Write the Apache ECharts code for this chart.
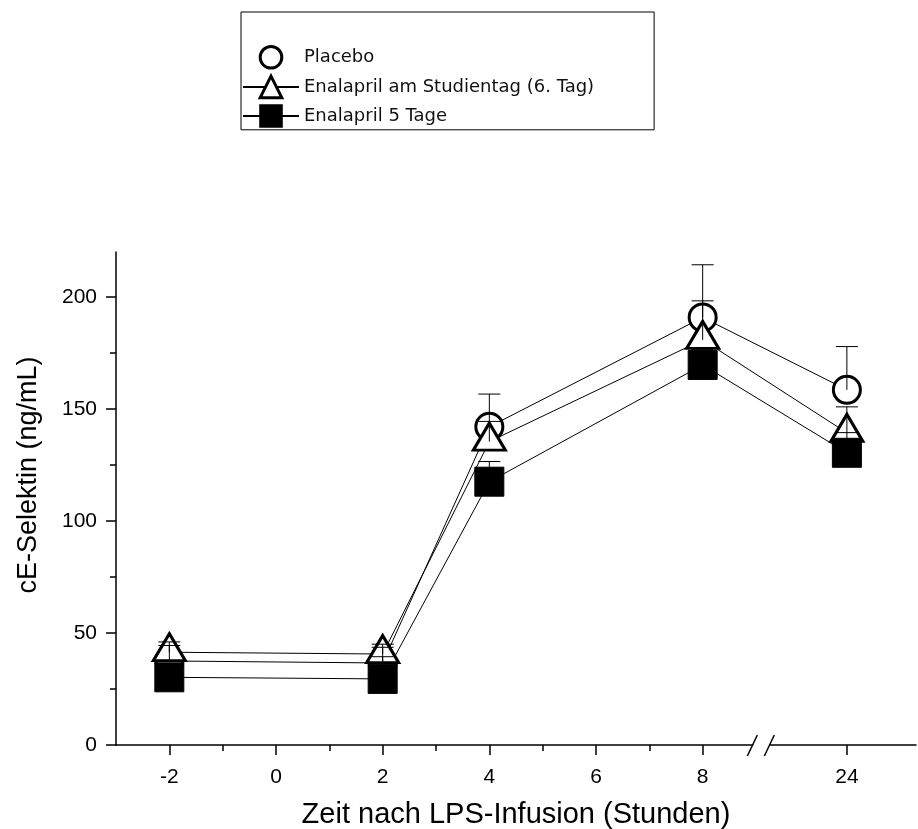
<!DOCTYPE html>
<html>
<head>
<meta charset="utf-8">
<script src="https://cdn.jsdelivr.net/npm/echarts@6/dist/echarts.min.js"></script>
<style>
  html, body { margin: 0; padding: 0; background: #fff; }
  #chart { width: 918px; height: 829px; }
</style>
</head>
<body>
<div id="chart"></div>
<script>
// Zeitpunkte (Stunden nach LPS-Infusion)
const hours = [-2, 2, 4, 8, 24]
const seriesNames = ['Placebo', 'Enalapril am Studientag (6. Tag)', 'Enalapril 5 Tage']
// Mittelwerte cE-Selektin (ng/mL)
const placebo = [37.5, 36.6, 142.0, 190.8, 158.5]
const enalaprilDay6 = [41.4, 40.6, 135.4, 180.8, 139.3]
const enalapril5 = [30.2, 29.5, 117.5, 169.6, 130.4]
// obere Fehlerbalken (SD)
const placeboSd = [8.5, 8.4, 14.6, 23.5, 19.3]
const enalaprilDay6Sd = [3, 3, 9, 17.4, 11.6]
const enalapril5Sd = [6, 9.9, 9, 7, 9]
// Achsenbeschriftung
const xTickHours = [-2, 0, 2, 4, 6, 8, 24]
const xTickLabels = ['-2', '0', '2', '4', '6', '8', '24']
const xMinorHours = [-1, 1, 3, 5, 7]
const yTicks = [0, 50, 100, 150, 200]
const yMinorTicks = [25, 75, 125, 175]

// gebrochene Achse: nach 8 h wird gestaucht
const BREAK_FROM = 8
const BREAK_SCALE = 0.169
const BREAK_POS = 9.1
function xPos (h) {
  return h <= BREAK_FROM ? h : BREAK_FROM + (h - BREAK_FROM) * BREAK_SCALE
}

const FONT = 'Liberation Sans'
const tickPositions = xTickHours.map(xPos)

function pairs (values) {
  return hours.map((h, i) => [xPos(h), values[i]])
}
function errData (values, sd) {
  return hours.map((h, i) => [xPos(h), values[i], values[i] + sd[i]])
}
function renderErr (params, api) {
  const base = api.coord([api.value(0), api.value(1)])
  const top = api.coord([api.value(0), api.value(2)])
  const st = { stroke: '#000', lineWidth: 1 }
  return {
    type: 'group',
    children: [
      { type: 'line', shape: { x1: base[0], y1: base[1], x2: top[0], y2: top[1] }, style: st },
      { type: 'line', shape: { x1: top[0] - 11, y1: top[1], x2: top[0] + 11, y2: top[1] }, style: st }
    ]
  }
}

const chart = echarts.init(document.getElementById('chart'))
chart.setOption({
  animation: false,
  backgroundColor: '#fff',
  legend: {
    orient: 'vertical',
    left: 241,
    top: 12,
    padding: [33, 60, 2, 1],
    itemGap: 5,
    itemWidth: 56,
    itemHeight: 27,
    borderColor: '#000',
    borderWidth: 1,
    selectedMode: false,
    textStyle: { fontFamily: 'DejaVu Sans', fontSize: 18, color: '#111' },
    data: [
      { name: seriesNames[0], lineStyle: { opacity: 0 }, itemStyle: { borderWidth: 3 } },
      { name: seriesNames[1], itemStyle: { borderWidth: 3 } },
      { name: seriesNames[2] }
    ]
  },
  grid: { left: 116, right: 2, top: 252, bottom: 84, outerBoundsMode: 'none' },
  xAxis: [
    {
      type: 'value',
      min: -3,
      max: 12,
      name: 'Zeit nach LPS-Infusion (Stunden)',
      nameLocation: 'middle',
      nameGap: 55,
      nameTextStyle: { fontFamily: FONT, fontSize: 29, color: '#000' },
      axisLine: { show: true, onZero: false, lineStyle: { color: '#000', width: 1.5 } },
      axisTick: { show: true, length: 10, customValues: tickPositions, lineStyle: { color: '#000', width: 1.5 } },
      axisLabel: {
        customValues: tickPositions,
        margin: 22,
        fontFamily: FONT,
        fontSize: 21,
        color: '#000',
        formatter: function (v) {
          const i = tickPositions.findIndex(p => Math.abs(p - v) < 1e-6)
          return i >= 0 ? xTickLabels[i] : ''
        }
      },
      splitLine: { show: false }
    },
    {
      type: 'value',
      min: -3,
      max: 12,
      position: 'bottom',
      axisLine: { show: false, onZero: false },
      axisTick: { show: true, length: 6, customValues: xMinorHours, lineStyle: { color: '#000', width: 1.5 } },
      axisLabel: { show: false },
      splitLine: { show: false }
    }
  ],
  yAxis: [
    {
      type: 'value',
      min: 0,
      max: 220,
      name: 'cE-Selektin (ng/mL)',
      nameLocation: 'middle',
      nameGap: 74,
      nameTextStyle: { fontFamily: FONT, fontSize: 27, color: '#000', padding: [0, 0, 0, 47] },
      axisLine: { show: true, onZero: false, lineStyle: { color: '#000', width: 1.5 } },
      axisTick: { show: true, length: 10, customValues: yTicks, lineStyle: { color: '#000', width: 1.5 } },
      axisLabel: { customValues: yTicks, margin: 19, fontFamily: FONT, fontSize: 21, color: '#000' },
      splitLine: { show: false }
    },
    {
      type: 'value',
      min: 0,
      max: 220,
      position: 'left',
      axisLine: { show: false, onZero: false },
      axisTick: { show: true, length: 6, customValues: yMinorTicks, lineStyle: { color: '#000', width: 1.5 } },
      axisLabel: { show: false },
      splitLine: { show: false }
    }
  ],
  series: [
    {
      name: seriesNames[0],
      type: 'line',
      data: pairs(placebo),
      symbol: 'circle',
      symbolSize: 27,
      itemStyle: { color: '#fff', borderColor: '#000', borderWidth: 3 },
      lineStyle: { color: '#000', width: 1 },
      emphasis: { disabled: true }
    },
    {
      name: seriesNames[1],
      type: 'line',
      data: pairs(enalaprilDay6),
      symbol: 'triangle',
      symbolSize: [32, 27],
      symbolOffset: [0, -5],
      itemStyle: { color: '#fff', borderColor: '#000', borderWidth: 3 },
      lineStyle: { color: '#000', width: 1 },
      emphasis: { disabled: true }
    },
    {
      name: seriesNames[2],
      type: 'line',
      data: pairs(enalapril5),
      symbol: 'rect',
      symbolSize: 29,
      itemStyle: { color: '#000', borderColor: '#000', borderWidth: 1 },
      lineStyle: { color: '#000', width: 1 },
      emphasis: { disabled: true }
    },
    { type: 'custom', z: 5, data: errData(placebo, placeboSd), renderItem: renderErr, silent: true },
    { type: 'custom', z: 5, data: errData(enalaprilDay6, enalaprilDay6Sd), renderItem: renderErr, silent: true },
    { type: 'custom', z: 5, data: errData(enalapril5, enalapril5Sd), renderItem: renderErr, silent: true }
  ]
})

// Achsenbruch-Zeichen "//"
const bx = chart.convertToPixel({ xAxisIndex: 0 }, BREAK_POS)
const by = chart.convertToPixel({ yAxisIndex: 0 }, 0)
chart.setOption({
  graphic: [
    { type: 'rect', shape: { x: bx - 8, y: by - 3, width: 16, height: 6 }, style: { fill: '#fff' }, z: 10 },
    { type: 'line', shape: { x1: bx - 14, y1: by + 11, x2: bx - 4, y2: by - 10 }, style: { stroke: '#000', lineWidth: 1.5 }, z: 11 },
    { type: 'line', shape: { x1: bx + 3, y1: by + 11, x2: bx + 13, y2: by - 10 }, style: { stroke: '#000', lineWidth: 1.5 }, z: 11 }
  ]
})
</script>
</body>
</html>
